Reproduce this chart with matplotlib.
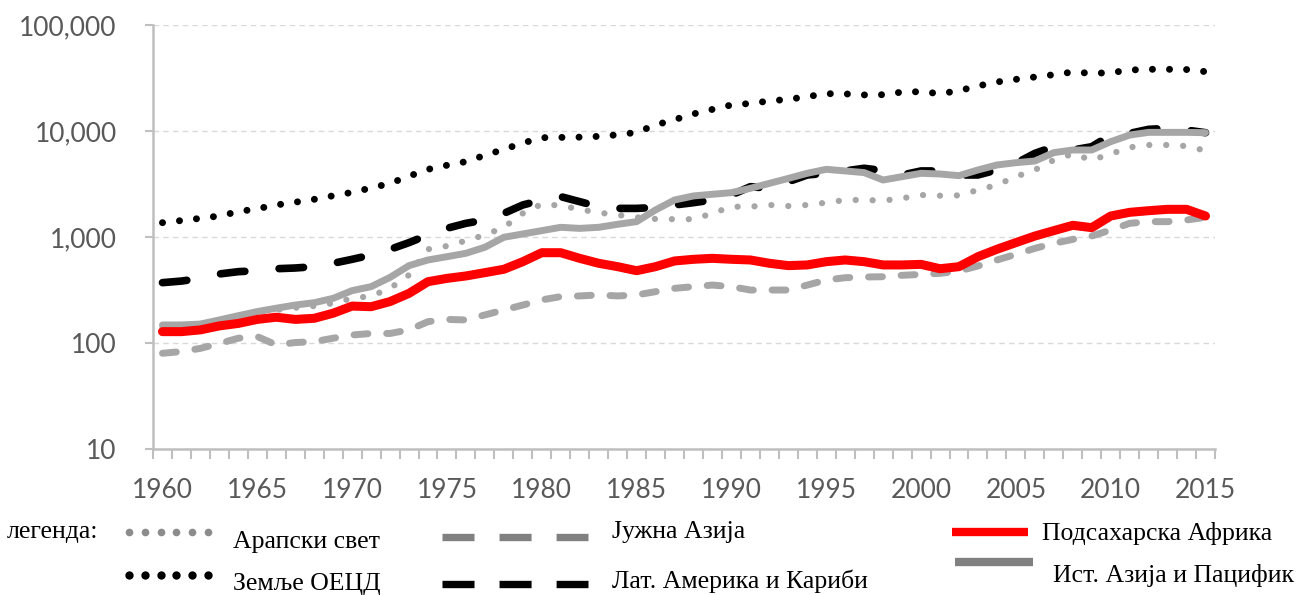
import matplotlib
matplotlib.use("Agg")
import numpy as np
import matplotlib.pyplot as plt
from matplotlib.lines import Line2D
from matplotlib.ticker import FixedLocator, FuncFormatter

# GDP per capita by region, 1960-2015 (log scale)
years = list(range(1960, 2016))

arab = [140, 145, 150, 163, 180, 195, 205, 215, 223, 237,
        264, 277, 328, 438, 766, 822, 923, 1045, 1234, 1671,
        2047, 1976, 1824, 1697, 1614, 1534, 1479, 1472, 1472, 1671,
        1932, 1932, 2005, 1960, 2005, 2108, 2234, 2234, 2202, 2317,
        2490, 2454, 2470, 2775, 3100, 3710, 4290, 5325, 6070, 5325,
        6070, 7010, 7380, 7380, 7210, 6520]
oecd = [1365, 1430, 1500, 1580, 1734, 1850, 2005, 2130, 2266, 2450,
        2637, 2900, 3206, 3750, 4348, 4750, 5140, 5900, 6714, 7700,
        8651, 8700, 8750, 8900, 9200, 9700, 11400, 12800, 14500, 16000,
        17600, 18200, 19200, 19900, 21100, 22500, 22400, 21900, 22000, 23300,
        23500, 22500, 24000, 26600, 29000, 30700, 32300, 34000, 36000, 35000,
        35500, 37600, 38200, 38200, 38000, 36300]
south_asia = [80, 83, 89, 99, 111, 115, 96, 101, 103, 111,
              119, 123, 123, 133, 159, 167, 165, 184, 205, 228,
              255, 274, 278, 284, 278, 284, 305, 328, 340, 352,
              340, 316, 316, 316, 352, 393, 413, 419, 422, 435,
              444, 454, 478, 533, 607, 686, 781, 871, 950, 1021,
              1164, 1346, 1396, 1396, 1446, 1534]
latam = [371, 384, 407, 448, 471, 481, 502, 510, 525, 565,
         616, 676, 765, 885, 1046, 1208, 1346, 1446, 1671, 2005,
         2234, 2404, 2155, 1932, 1862, 1862, 1900, 2005, 2108, 2234,
         2490, 2985, 2880, 3325, 3846, 3990, 4200, 4450, 4230, 3846,
         4200, 4200, 3846, 3846, 4290, 4955, 6150, 7110, 6620, 7110,
         9160, 9500, 10370, 10600, 10200, 9640]
ssa = [128, 128, 133, 145, 153, 167, 175, 167, 171, 191,
       223, 220, 246, 294, 379, 407, 429, 461, 496, 585,
       711, 711, 629, 565, 525, 481, 525, 594, 616, 629,
       616, 607, 565, 537, 545, 585, 607, 585, 545, 545,
       552, 502, 525, 652, 766, 885, 1021, 1148, 1289, 1225,
       1578, 1709, 1771, 1824, 1824, 1578]
east_asia = [148, 148, 151, 165, 181, 198, 213, 228, 240, 264,
             312, 340, 416, 537, 607, 652, 702, 800, 994, 1068,
             1148, 1234, 1206, 1234, 1318, 1396, 1800, 2234, 2440, 2530,
             2620, 2880, 3206, 3570, 3990, 4350, 4200, 4050, 3450, 3710,
             3990, 3930, 3790, 4290, 4780, 5025, 5210, 6250, 6620, 6620,
             7930, 9160, 9710, 9710, 9710, 9640]

labels = ["Арапски свет", "Земље ОЕЦД", "Јужна Азија",
          "Лат. Америка и Кариби", "Подсахарска Африка", "Ист. Азија и Пацифик"]
y_ticks = [10, 100, 1000, 10000, 100000]
x_ticks = list(range(1960, 2016, 5))

W, H = 1306, 595
fig = plt.figure(figsize=(W / 100, H / 100), dpi=100)
ax = fig.add_axes([153 / W, 1 - 449 / H, (1215 - 153) / W, (449 - 25) / H])

gray = "#a6a6a6"
ax.plot(years, arab, color=gray, lw=4.5, linestyle=(0, (0.01, 2.7)),
        dash_capstyle="round")
ax.plot(years, south_asia, color=gray, lw=5, linestyle=(0, (2.0, 2.7)),
        dash_capstyle="round")
ax.plot(years, latam, color="black", lw=5.5, linestyle=(0, (3.2, 4.5)),
        dash_capstyle="round")
ax.plot(years, oecd, color="black", lw=5, linestyle=(0, (0.01, 2.45)),
        dash_capstyle="round")
ax.plot(years, east_asia, color=gray, lw=5, solid_capstyle="round")
ax.plot(years, ssa, color="#ff0000", lw=6.5, solid_capstyle="round")

ax.set_yscale("log")
ax.set_ylim(10, 100000)
ax.set_xlim(1959.5, 2015.5)
ax.yaxis.set_major_locator(FixedLocator(y_ticks))
ax.yaxis.set_minor_locator(FixedLocator([]))
ax.yaxis.set_major_formatter(FuncFormatter(lambda v, p: f"{v:,.0f}"))
ax.set_xticks(x_ticks)
ax.set_xticks([y - 0.5 for y in years] + [2015.5], minor=True)

for s in ["top", "right"]:
    ax.spines[s].set_visible(False)
for s in ["left", "bottom"]:
    ax.spines[s].set_color("#bfbfbf")
    ax.spines[s].set_linewidth(1.8)

ax.grid(axis="y", which="major", color="#d9d9d9", linestyle=(0, (4, 3)), lw=1)
ax.set_axisbelow(True)

ax.tick_params(axis="y", which="major", length=6, width=1.5, color="#bfbfbf",
               pad=20, labelsize=19, labelcolor="#595959")
ax.tick_params(axis="x", which="major", length=0, pad=21, labelsize=19,
               labelcolor="#595959")
ax.tick_params(axis="x", which="minor", length=7, width=1.5, color="#bfbfbf",
               direction="out")
for t in ax.get_xticklabels() + ax.get_yticklabels():
    t.set_family("Lato")

# hand-made legend under the plot
def fx(x):
    return x / W

def fy(y):
    return 1 - y / H

leg_font = dict(family="Liberation Serif", size=18.5, color="black")
fig.text(fx(7), fy(538), "легенда:", va="baseline", ha="left", **leg_font)

dot_x = [fx(v) for v in np.linspace(129, 208, 6)]
fig.add_artist(Line2D(dot_x, [fy(532)] * 6, color="#8c8c8c", linestyle="none",
                      marker="o", markersize=5.5, markeredgewidth=0))
fig.add_artist(Line2D(dot_x, [fy(575)] * 6, color="black", linestyle="none",
                      marker="o", markersize=6, markeredgewidth=0))
fig.add_artist(Line2D([fx(442), fx(588)], [fy(537), fy(537)], color="#808080",
                      lw=5.3, linestyle=(0, (4.35, 3.4)), dash_capstyle="butt"))
fig.add_artist(Line2D([fx(442), fx(588)], [fy(584), fy(584)], color="black",
                      lw=5.3, linestyle=(0, (4.35, 3.4)), dash_capstyle="butt"))
fig.add_artist(Line2D([fx(952), fx(1028)], [fy(532), fy(532)], color="#ff0000",
                      lw=6, solid_capstyle="butt"))
fig.add_artist(Line2D([fx(955), fx(1033)], [fy(562), fy(562)], color="#808080",
                      lw=6, solid_capstyle="butt"))

fig.text(fx(233), fy(548), labels[0], va="baseline", ha="left", **leg_font)
fig.text(fx(233), fy(590), labels[1], va="baseline", ha="left", **leg_font)
fig.text(fx(612), fy(538), labels[2], va="baseline", ha="left", **leg_font)
fig.text(fx(612), fy(588), labels[3], va="baseline", ha="left", **leg_font)
fig.text(fx(1042), fy(540), labels[4], va="baseline", ha="left", **leg_font)
fig.text(fx(1053), fy(582), labels[5], va="baseline", ha="left", **leg_font)

fig.savefig("out.png", dpi=100, facecolor="white")
